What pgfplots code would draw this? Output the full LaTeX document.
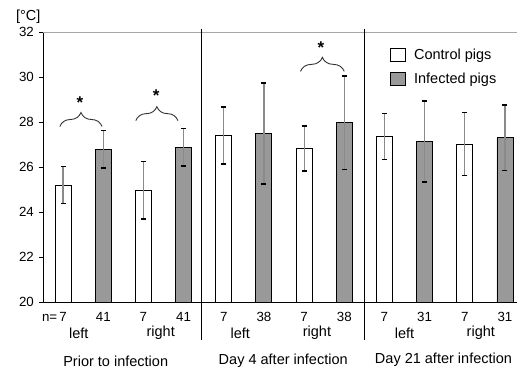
\documentclass[border=0pt]{standalone}
\usepackage{pgfplots}
\pgfplotsset{compat=1.18}
\usepackage{fontspec}
\setmainfont{Liberation Sans}
\usetikzlibrary{decorations.pathreplacing}
\definecolor{barfill}{HTML}{999999}
\definecolor{errgray}{HTML}{8A8A8A}
\newcommand{\tickfont}{\fontsize{13.3bp}{16bp}\selectfont}
\newcommand{\labfont}{\fontsize{14.5bp}{17bp}\selectfont}
\newcommand{\starfont}{\fontsize{17bp}{20bp}\selectfont\bfseries}
\pgfplotsset{
  myerr/.style={
    error bars/.cd, y dir=both, y explicit,
    error bar style={errgray, line width=1.2pt},
    error mark options={black, line width=1.4pt, mark size=2.5bp, rotate=90}
  }
}
\begin{document}
\begin{tikzpicture}
\useasboundingbox (-43bp,-66bp) rectangle (474bp,302bp);
\begin{axis}[
  scale only axis, width=474bp, height=270bp,
  at={(0,0)}, anchor=south west,
  xmin=-0.5, xmax=11.3, ymin=20, ymax=32,
  axis x line*=bottom, axis y line*=left,
  axis line style={black, line width=0.9pt},
  ytick={20,22,...,32},
  xtick={0,...,11},
  xticklabels={\llap{n=\,}7,41,7,41,7,38,7,38,7,31,7,31},
  xtick style={draw=none},
  ytick style={black, line width=0.9pt},
  tick align=outside, major tick length=4bp,
  /pgf/number format/assume math mode=true,
  tick label style={font=\tickfont},
  yticklabel style={anchor=east, inner sep=0pt, xshift=-5bp},
  xticklabel style={anchor=center, inner sep=0pt, yshift=-11bp},
  clip mode=individual,
  ybar, bar width=16bp, bar shift=0pt,
  legend style={at={(axis description cs:0.732,0.94)}, anchor=north west,
    draw=none, fill=none, inner sep=0pt, row sep=10bp, font=\labfont,
    nodes={inner sep=0pt},
    /tikz/every odd column/.append style={column sep=8bp}},
  legend cell align=left,
  legend image code/.code={\draw[#1] (0bp,-6.5bp) rectangle (15bp,6.5bp);},
]
\addplot[fill=white, draw=black, line width=0.9pt, myerr] coordinates {
  (0,25.20) +- (0,0.83)
  (2,24.97) +- (0,1.28)
  (4,27.40) +- (0,1.27)
  (6,26.83) +- (0,1.00)
  (8,27.36) +- (0,1.02)
  (10,27.02) +- (0,1.40)
};
\addlegendentry{Control pigs}
\addplot[fill=barfill, draw=black, line width=0.9pt, myerr] coordinates {
  (1,26.78) +- (0,0.83)
  (3,26.87) +- (0,0.83)
  (5,27.49) +- (0,2.24)
  (7,27.97) +- (0,2.07)
  (9,27.14) +- (0,1.80)
  (11,27.30) +- (0,1.45)
};
\addlegendentry{Infected pigs}
% top line
\draw[gray!70, line width=0.9pt] (axis cs:-0.5,32) -- (axis cs:11.3,32);
% dividers
\draw[black, line width=0.9pt] ([yshift=3bp]axis cs:3.44,32) -- ([yshift=-38bp]axis cs:3.44,20);
\draw[black, line width=0.9pt] ([yshift=3bp]axis cs:7.51,32) -- ([yshift=-38bp]axis cs:7.51,20);
% braces and stars
\draw[decorate, decoration={brace, amplitude=14bp}, black!80, line width=0.9pt] (axis cs:-0.08,27.80) -- (axis cs:0.97,27.80);
\draw[decorate, decoration={brace, amplitude=14bp}, black!80, line width=0.9pt] (axis cs:1.81,28.06) -- (axis cs:2.86,28.06);
\draw[decorate, decoration={brace, amplitude=14bp}, black!80, line width=0.9pt] (axis cs:5.91,30.25) -- (axis cs:7.00,30.25);
\node[anchor=north, inner sep=0pt, font=\starfont] at (axis cs:0.42,29.12) {*};
\node[anchor=north, inner sep=0pt, font=\starfont] at (axis cs:2.32,29.43) {*};
\node[anchor=north, inner sep=0pt, font=\starfont] at (axis cs:6.42,31.59) {*};
% side labels
\node[font=\labfont, inner sep=0pt] at ([yshift=-31bp]axis cs:0.39,20) {left};
\node[font=\labfont, inner sep=0pt] at ([yshift=-31bp]axis cs:2.43,20) {right};
\node[font=\labfont, inner sep=0pt] at ([yshift=-31bp]axis cs:4.41,20) {left};
\node[font=\labfont, inner sep=0pt] at ([yshift=-31bp]axis cs:6.32,20) {right};
\node[font=\labfont, inner sep=0pt] at ([yshift=-31bp]axis cs:8.50,20) {left};
\node[font=\labfont, inner sep=0pt] at ([yshift=-31bp]axis cs:10.40,20) {right};
% group labels
\node[font=\labfont, inner sep=0pt] at ([yshift=-59bp]axis cs:1.31,20) {Prior to infection};
\node[font=\labfont, inner sep=0pt] at ([yshift=-59bp]axis cs:5.48,20) {Day 4 after infection};
\node[font=\labfont, inner sep=0pt] at ([yshift=-57.5bp]axis cs:9.47,20) {Day 21 after infection};
% unit
\node[font=\labfont, inner sep=0pt] at ([xshift=-14.7bp, yshift=15.6bp]rel axis cs:0,1) {[°C]};
\end{axis}
\end{tikzpicture}
\end{document}
